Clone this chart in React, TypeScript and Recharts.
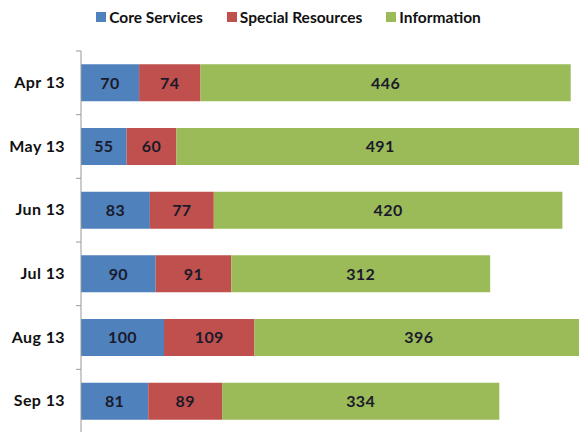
import { BarChart, Bar, XAxis, YAxis, Legend, LabelList } from "recharts";

const months = ["Apr 13", "May 13", "Jun 13", "Jul 13", "Aug 13", "Sep 13"];
const coreServices = [70, 55, 83, 90, 100, 81];
const specialResources = [74, 60, 77, 91, 109, 89];
const information = [446, 491, 420, 312, 396, 334];

const SERIES = [
  { key: "core", name: "Core Services", color: "#4F81BD" },
  { key: "special", name: "Special Resources", color: "#C0504D" },
  { key: "info", name: "Information", color: "#9BBB59" },
];

const data = months.map((m, i) => ({
  month: m,
  core: coreServices[i],
  special: specialResources[i],
  info: information[i],
}));

const FONT = "Lato, 'Open Sans', sans-serif";
const PLOT_TOP = 51;
const PLOT_BOTTOM = 433;
const BAND = (PLOT_BOTTOM - PLOT_TOP) / months.length;

const MonthTick = (props: any) => {
  const { x, y, payload } = props;
  return (
    <g>
      <line x1={x + 11} x2={x + 16} y1={y - BAND / 2} y2={y - BAND / 2} stroke="#999" />
      <text
        x={x}
        y={y}
        dy={5}
        textAnchor="end"
        fill="#111"
        fontSize={16}
        fontWeight={700}
        fontFamily={FONT}
        letterSpacing={0.4}
      >
        {payload.value}
      </text>
    </g>
  );
};

const LegendBox = () => (
  <div
    style={{
      display: "flex",
      justifyContent: "center",
      alignItems: "center",
      height: 26,
      fontFamily: FONT,
      fontSize: 15.5,
      fontWeight: 700,
      color: "#111",
      paddingRight: 2,
    }}
  >
    {SERIES.map((s) => (
      <div key={s.key} style={{ display: "flex", alignItems: "center", margin: "0 12px" }}>
        <span style={{ width: 10, height: 10, background: s.color, marginRight: 3 }} />
        {s.name}
      </div>
    ))}
  </div>
);

export default function App() {
  return (
    <div
      style={{
        position: "fixed",
        top: 0,
        left: 0,
        width: 579,
        height: 432,
        overflow: "hidden",
        background: "#fff",
      }}
    >
      <BarChart
        width={662}
        height={440}
        data={data}
        layout="vertical"
        barCategoryGap="21%"
        margin={{ top: PLOT_TOP - 26, right: 0, bottom: 440 - PLOT_BOTTOM, left: 0 }}
      >
        <XAxis type="number" domain={[0, 700]} hide />
        <YAxis
          type="category"
          dataKey="month"
          width={81}
          tickLine={false}
          tickSize={0}
          tickMargin={16}
          axisLine={{ stroke: "#999" }}
          tick={<MonthTick />}
        />
        <Legend
          verticalAlign="top"
          content={<LegendBox />}
          wrapperStyle={{ top: 4, left: 0, width: 579, height: 26 }}
        />
        {SERIES.map((s) => (
          <Bar
            key={s.key}
            dataKey={s.key}
            name={s.name}
            stackId="a"
            fill={s.color}
            isAnimationActive={false}
          >
            <LabelList
              dataKey={s.key}
              position="center"
              fill="#1a1a2a"
              fontSize={16}
              fontWeight={700}
              fontFamily={FONT}
              letterSpacing={0.4}
            />
          </Bar>
        ))}
      </BarChart>
    </div>
  );
}
